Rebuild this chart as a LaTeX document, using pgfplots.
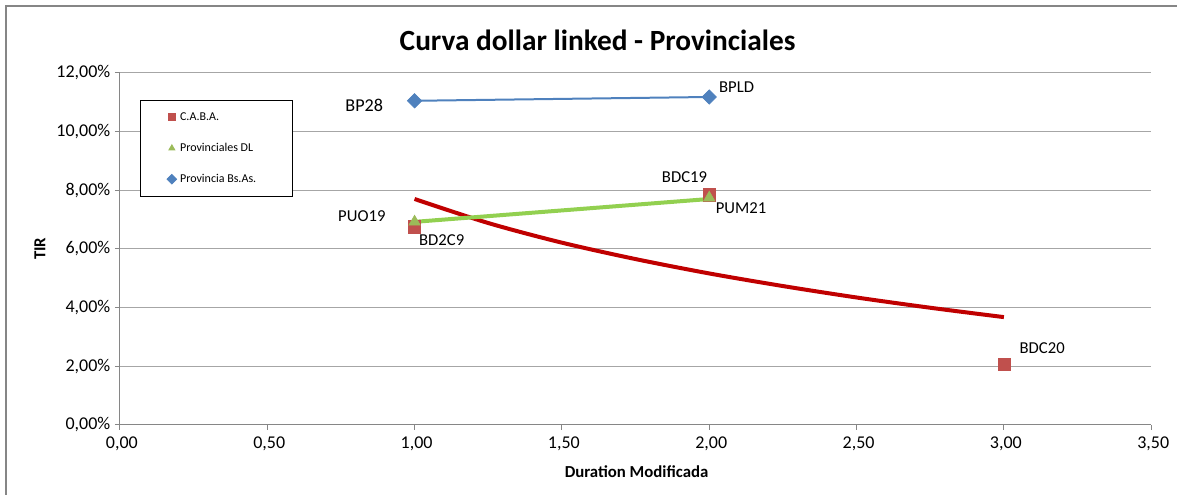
\documentclass[border=0pt]{standalone}
\usepackage{pgfplots}
\pgfplotsset{compat=1.18}
\usepackage{fontspec}
\setmainfont{Carlito}
\definecolor{cabaR}{HTML}{C0504D}
\definecolor{provG}{HTML}{9BBB59}
\definecolor{provB}{HTML}{4F81BD}
\definecolor{trendR}{HTML}{C00000}
\definecolor{trendG}{HTML}{92D050}
\definecolor{axgray}{HTML}{868686}
\definecolor{gridgray}{HTML}{A6A6A6}
\begin{document}
\begin{tikzpicture}[x=0.75pt,y=0.75pt]
\path (0,0) rectangle (1178,495);
\draw[axgray,line width=1.2pt] (6,0) -- (6,489) -- (1178,489);
\node[font=\fontsize{22}{26}\selectfont\bfseries] at (598,455) {Curva dollar linked - Provinciales};
\node[font=\fontsize{12.6}{15}\selectfont\bfseries,rotate=90] at (40,246) {TIR};
\node[font=\fontsize{12.6}{15}\selectfont\bfseries] at (637,23) {Duration Modificada};
\begin{axis}[
  at={(90pt,52.5pt)}, anchor=south west,
  scale only axis, width=774pt, height=264pt,
  xmin=0, xmax=3.5, ymin=0, ymax=12,
  xtick={0,0.5,...,3.5}, ytick={0,2,...,12},
  axis x line=bottom, axis y line=left,
  axis line style={-,axgray,line width=0.8pt},
  tick align=outside, major tick length=3.75pt,
  tick style={axgray,line width=0.8pt},
  ymajorgrids, grid style={gridgray,line width=0.8pt},
  /pgf/number format/assume math mode=true,
  tick label style={font=\fontsize{13.5}{15}\selectfont},
  xticklabel style={yshift=-2pt, xshift=1.5pt},
  xticklabel={\pgfmathprintnumber[fixed,fixed zerofill,precision=2,use comma]{\tick}},
  yticklabel={\pgfmathprintnumber[fixed,fixed zerofill,precision=2,use comma]{\tick}\%},
  clip=false,
  legend cell align=left,
  legend style={at={(0.0194,0.9233)}, anchor=north west, draw=black, line width=0.6pt,
    font=\fontsize{9}{10.5}\selectfont, inner xsep=20pt, inner ysep=1.1pt,
    column sep=2.5pt, row sep=0pt,
    nodes={inner sep=0pt, minimum height=23.25pt, line width=0.6pt}},
  legend image code/.code={\draw[#1, mark size=2.6pt] plot coordinates {(0pt,0pt)};},
]
% trendlines
\addplot[trendR, line width=3pt, smooth, forget plot] coordinates {
(1,7.70) (1.25,6.88) (1.5,6.21) (1.75,5.65) (2,5.16) (2.25,4.73) (2.5,4.34) (2.75,3.99) (3,3.67)};
\addplot[trendG, line width=3pt, forget plot] coordinates {(1,6.92) (2,7.70)};
% series
\addplot[only marks, mark=square*, mark size=4.6pt, mark options={draw=cabaR,fill=cabaR}] coordinates {(1,6.75) (2,7.84) (3,2.05)};
\addlegendentry{C.A.B.A.}
\addplot[only marks, mark=triangle*, mark size=5pt, mark options={draw=provG,fill=provG}] coordinates {(1,6.92) (2,7.74)};
\addlegendentry{Provinciales DL}
\addplot[provB, line width=1.5pt, mark=square*, mark size=3.8pt, mark options={rotate=45,draw=provB,fill=provB,line width=0.5pt}] coordinates {(1,11.05) (2,11.18)};
\addlegendentry{\makebox[64pt][l]{Provincia Bs.As.}}
% data labels
\node[font=\fontsize{13.6}{16}\selectfont] at (axis cs:0.829,10.88) {BP28};
\node[font=\fontsize{12.5}{15}\selectfont] at (axis cs:2.093,11.52) {BPLD};
\node[font=\fontsize{12.5}{15}\selectfont] at (axis cs:1.916,8.455) {BDC19};
\node[font=\fontsize{12.5}{15}\selectfont] at (axis cs:2.108,7.40) {PUM21};
\node[font=\fontsize{12.5}{15}\selectfont] at (axis cs:0.821,7.126) {PUO19};
\node[font=\fontsize{12.5}{15}\selectfont] at (axis cs:1.092,6.307) {BD2C9};
\node[font=\fontsize{12.5}{15}\selectfont] at (axis cs:3.130,2.625) {BDC20};
\end{axis}
\end{tikzpicture}
\end{document}
